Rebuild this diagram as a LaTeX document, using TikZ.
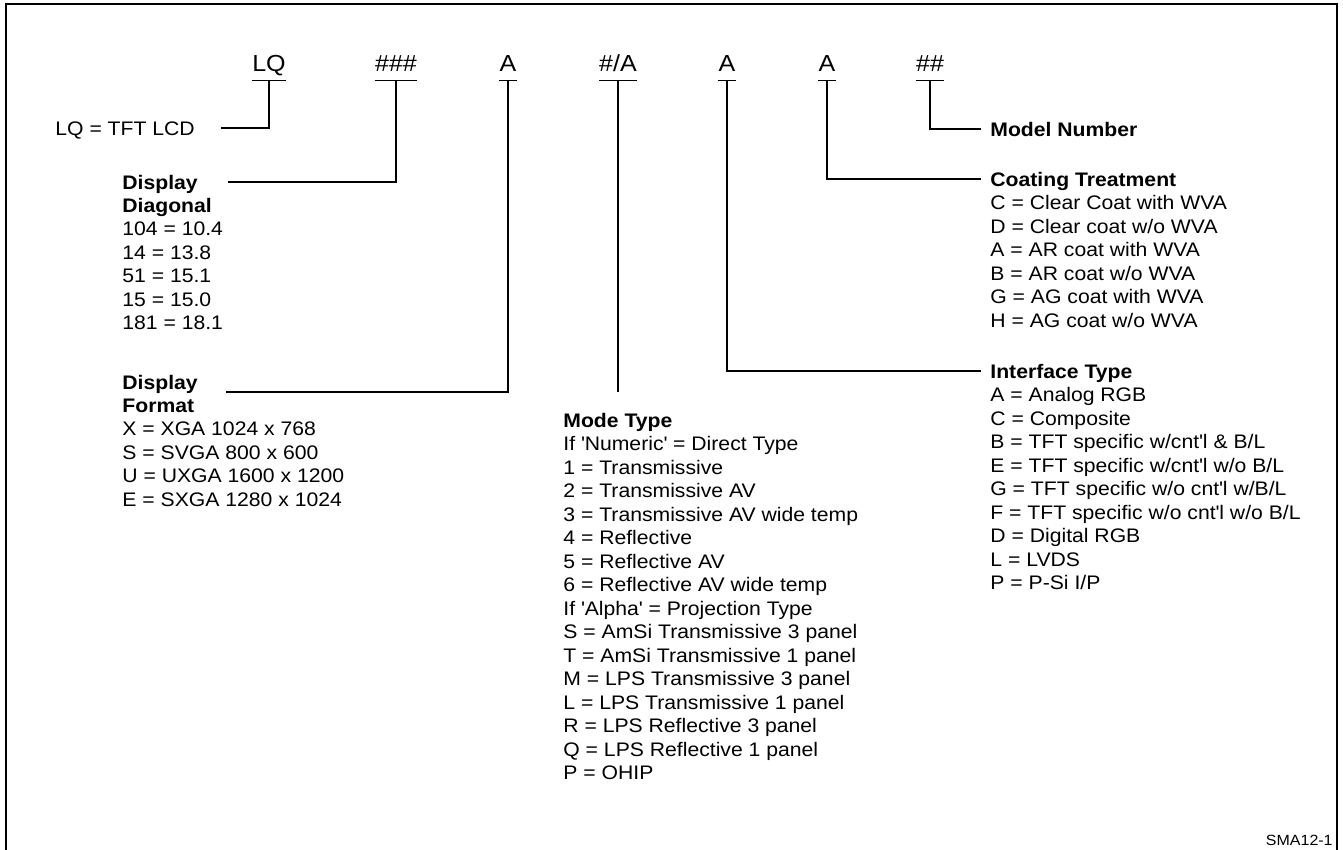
\documentclass[tikz,border=0pt]{standalone}
\usepackage{fontspec}
\setmainfont{Liberation Sans}[FakeStretch=1.08]
\newcommand{\aq}{\textquotesingle}
\tikzset{
  seg/.style={font=\fontsize{11.6pt}{14pt}\selectfont,anchor=base,inner xsep=0pt,inner ysep=4pt,text depth=0pt},
  hdr/.style={font=\fontsize{9.8pt}{11.75pt}\selectfont\bfseries,anchor=west,inner sep=0pt,text height=7.2pt,text depth=0pt},
  defn/.style={font=\fontsize{9.8pt}{11.75pt}\selectfont,anchor=west,inner sep=0pt,text height=7.2pt,text depth=0pt},
  body/.style={font=\fontsize{9.8pt}{11.75pt}\selectfont,anchor=north west,inner sep=0pt,align=left},
  link/.style={line width=0.6pt},
  border/.style={line width=1pt},
}
\begin{document}
\begin{tikzpicture}[x=0.5pt,y=-0.5pt]
  \useasboundingbox (0,0) rectangle (1343,850);
  \draw[border] (6,850) -- (6,4) -- (1337,4) -- (1337,850);
  % part number segments
  \node[seg] (seglq) at (269,72) {LQ};
  \node[seg] (segnum) at (396,72) {\#\#\#};
  \node[seg] (segfmt) at (508,72) {A};
  \node[seg] (segmode) at (618,72) {\#/A};
  \node[seg] (segintf) at (727,72) {A};
  \node[seg] (segcoat) at (827,72) {A};
  \node[seg] (segmodel) at (930,72) {\#\#};
  \foreach \s in {seglq,segnum,segfmt,segmode,segintf,segcoat,segmodel}
    \draw[link] (\s.south west) -- (\s.south east);
  % left side
  \node[defn] (lqdef) at (55,128) {LQ = TFT LCD};
  \node[hdr] (diaghdr) at (122,182) {Display};
  \node[hdr] (diaghdrb) at (122,205.5) {Diagonal};
  \node[body] (diaglist) at (122,221.8) {104 = 10.4\\14 = 13.8\\51 = 15.1\\15 = 15.0\\181 = 18.1};
  \node[hdr] (fmthdr) at (122,382) {Display};
  \node[hdr] (fmthdrb) at (122,405.5) {Format};
  \node[body] (fmtlist) at (122,421.8) {X = XGA 1024 x 768\\S = SVGA 800 x 600\\U = UXGA 1600 x 1200\\E = SXGA 1280 x 1024};
  % middle
  \node[hdr] (modehdr) at (563,420) {Mode Type};
  \node[body] (modelist) at (563,436.3) {If \aq Numeric\aq{} = Direct Type\\1 = Transmissive\\2 = Transmissive AV\\3 = Transmissive AV wide temp\\4 = Reflective\\5 = Reflective AV\\6 = Reflective AV wide temp\\If \aq Alpha\aq{} = Projection Type\\S = AmSi Transmissive 3 panel\\T = AmSi Transmissive 1 panel\\M = LPS Transmissive 3 panel\\L = LPS Transmissive 1 panel\\R = LPS Reflective 3 panel\\Q = LPS Reflective 1 panel\\P = OHIP};
  % right side
  \node[hdr] (modelhdr) at (990,129) {Model Number};
  \node[hdr] (coathdr) at (990,179) {Coating Treatment};
  \node[body] (coatlist) at (990,195.3) {C = Clear Coat with WVA\\D = Clear coat w/o WVA\\A = AR coat with WVA\\B = AR coat w/o WVA\\G = AG coat with WVA\\H = AG coat w/o WVA};
  \node[hdr] (intfhdr) at (990,371) {Interface Type};
  \node[body] (intflist) at (990,387.3) {A = Analog RGB\\C = Composite\\B = TFT specific w/cnt\aq l \& B/L\\E = TFT specific w/cnt\aq l w/o B/L\\G = TFT specific w/o cnt\aq l w/B/L\\F = TFT specific w/o cnt\aq l w/o B/L\\D = Digital RGB\\L = LVDS\\P = P-Si I/P};
  % connectors
  \draw[link] (seglq.south) |- ([xshift=13pt]lqdef.east);
  \draw[link] (segnum.south) |- ([xshift=15pt]diaghdr.east);
  \draw[link] (segfmt.south) |- ([xshift=14pt,yshift=-5pt]fmthdr.east);
  \draw[link] (segmode.south) -- ([yshift=10.4pt]segmode.south |- modehdr.north);
  \draw[link] (segintf.south) |- ([xshift=-4.5pt]intfhdr.west);
  \draw[link] (segcoat.south) |- ([xshift=-4.5pt]coathdr.west);
  \draw[link] (segmodel.south) |- ([xshift=-4.5pt]modelhdr.west);
  \node[font=\fontsize{7.4pt}{9pt}\selectfont,anchor=east,inner sep=0pt] (tag) at (1333,840) {SMA12-1};
\end{tikzpicture}
\end{document}
